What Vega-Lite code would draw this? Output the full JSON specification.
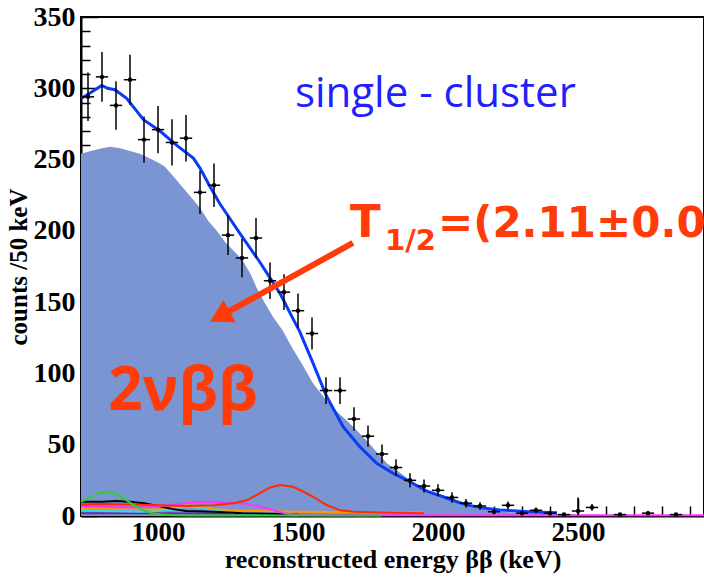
{
  "$schema": "https://vega.github.io/schema/vega-lite/v6.json",
  "width": 623,
  "height": 499,
  "autosize": {"type": "none"},
  "padding": {"left": 81, "top": 17, "right": 0, "bottom": 61},
  "background": "white",
  "config": {
    "view": {"stroke": "black", "strokeWidth": 2},
    "axis": {"grid": false, "tickColor": "black", "tickWidth": 1.5, "labelColor": "black", "titleColor": "black", "labelOverlap": false, "labelFlush": false, "labelBound": false, "zindex": 1}
  },
  "datasets": {
    "mc": [
      {"e": 725, "n": 254}, {"e": 760, "n": 256}, {"e": 800, "n": 258}, {"e": 830, "n": 259}, {"e": 865, "n": 258},
      {"e": 900, "n": 256}, {"e": 935, "n": 254}, {"e": 970, "n": 251}, {"e": 1000, "n": 248}, {"e": 1025, "n": 245},
      {"e": 1060, "n": 237}, {"e": 1090, "n": 230}, {"e": 1125, "n": 222}, {"e": 1150, "n": 216}, {"e": 1180, "n": 207},
      {"e": 1210, "n": 200}, {"e": 1240, "n": 192}, {"e": 1270, "n": 186}, {"e": 1300, "n": 180}, {"e": 1330, "n": 170},
      {"e": 1355, "n": 159}, {"e": 1380, "n": 150}, {"e": 1410, "n": 140}, {"e": 1446, "n": 130}, {"e": 1482, "n": 117},
      {"e": 1507, "n": 109}, {"e": 1554, "n": 93}, {"e": 1602, "n": 81}, {"e": 1640, "n": 73}, {"e": 1674, "n": 67},
      {"e": 1710, "n": 60}, {"e": 1745, "n": 53}, {"e": 1780, "n": 45}, {"e": 1817, "n": 37}, {"e": 1860, "n": 31},
      {"e": 1900, "n": 25}, {"e": 1940, "n": 20}, {"e": 1982, "n": 16}, {"e": 2043, "n": 11}, {"e": 2102, "n": 6.5},
      {"e": 2161, "n": 4.8}, {"e": 2221, "n": 3}, {"e": 2281, "n": 2.3}, {"e": 2364, "n": 1.8}, {"e": 2450, "n": 1},
      {"e": 2550, "n": 0.5}, {"e": 2700, "n": 0.2}, {"e": 2950, "n": 0.1}
    ],
    "fit": [
      {"e": 727, "n": 293}, {"e": 760, "n": 297}, {"e": 799, "n": 302}, {"e": 820, "n": 300}, {"e": 846, "n": 299},
      {"e": 888, "n": 293}, {"e": 948, "n": 278}, {"e": 1007, "n": 270}, {"e": 1067, "n": 260}, {"e": 1126, "n": 251},
      {"e": 1150, "n": 244}, {"e": 1186, "n": 231}, {"e": 1221, "n": 219}, {"e": 1245, "n": 212}, {"e": 1293, "n": 198},
      {"e": 1364, "n": 178}, {"e": 1400, "n": 167}, {"e": 1436, "n": 156}, {"e": 1470, "n": 143}, {"e": 1507, "n": 129},
      {"e": 1554, "n": 107}, {"e": 1602, "n": 84}, {"e": 1661, "n": 62.6}, {"e": 1721, "n": 48.6}, {"e": 1781, "n": 37},
      {"e": 1839, "n": 30}, {"e": 1900, "n": 24}, {"e": 1960, "n": 17.5}, {"e": 2018, "n": 13.5}, {"e": 2060, "n": 10.5},
      {"e": 2102, "n": 7.7}, {"e": 2161, "n": 5.6}, {"e": 2221, "n": 4.2}, {"e": 2281, "n": 3.5}, {"e": 2339, "n": 2.8},
      {"e": 2425, "n": 2.3}
    ],
    "pts": [
      {"e": 750, "x0": 728, "x1": 772, "n": 294, "lo": 277, "hi": 311},
      {"e": 800, "x0": 778, "x1": 822, "n": 308, "lo": 290.5, "hi": 325.5},
      {"e": 850, "x0": 828, "x1": 872, "n": 288, "lo": 271, "hi": 305},
      {"e": 900, "x0": 878, "x1": 922, "n": 306, "lo": 288.5, "hi": 323.5},
      {"e": 950, "x0": 928, "x1": 972, "n": 264, "lo": 247.8, "hi": 280.2},
      {"e": 1000, "x0": 978, "x1": 1022, "n": 271, "lo": 254.5, "hi": 287.5},
      {"e": 1050, "x0": 1028, "x1": 1072, "n": 262, "lo": 245.8, "hi": 278.2},
      {"e": 1100, "x0": 1078, "x1": 1122, "n": 265, "lo": 248.7, "hi": 281.3},
      {"e": 1150, "x0": 1128, "x1": 1172, "n": 227, "lo": 211.9, "hi": 242.1},
      {"e": 1200, "x0": 1178, "x1": 1222, "n": 232, "lo": 216.8, "hi": 247.2},
      {"e": 1250, "x0": 1228, "x1": 1272, "n": 197, "lo": 183, "hi": 211},
      {"e": 1300, "x0": 1278, "x1": 1322, "n": 181, "lo": 167.5, "hi": 194.5},
      {"e": 1350, "x0": 1328, "x1": 1372, "n": 195, "lo": 181, "hi": 209},
      {"e": 1400, "x0": 1378, "x1": 1422, "n": 165, "lo": 152.2, "hi": 177.8},
      {"e": 1450, "x0": 1428, "x1": 1472, "n": 157, "lo": 144.5, "hi": 169.5},
      {"e": 1500, "x0": 1478, "x1": 1522, "n": 144, "lo": 132, "hi": 156},
      {"e": 1550, "x0": 1528, "x1": 1572, "n": 128, "lo": 116.7, "hi": 139.3},
      {"e": 1600, "x0": 1578, "x1": 1622, "n": 88, "lo": 78.6, "hi": 97.4},
      {"e": 1650, "x0": 1628, "x1": 1672, "n": 88, "lo": 78.6, "hi": 97.4},
      {"e": 1700, "x0": 1678, "x1": 1722, "n": 68, "lo": 59.8, "hi": 76.2},
      {"e": 1750, "x0": 1728, "x1": 1772, "n": 56, "lo": 48.5, "hi": 63.5},
      {"e": 1800, "x0": 1778, "x1": 1822, "n": 43.5, "lo": 36.9, "hi": 50.1},
      {"e": 1850, "x0": 1828, "x1": 1872, "n": 34, "lo": 28.2, "hi": 39.8},
      {"e": 1900, "x0": 1878, "x1": 1922, "n": 25, "lo": 20, "hi": 30},
      {"e": 1950, "x0": 1928, "x1": 1972, "n": 21, "lo": 16.4, "hi": 25.6},
      {"e": 2000, "x0": 1978, "x1": 2022, "n": 18, "lo": 13.8, "hi": 22.2},
      {"e": 2050, "x0": 2028, "x1": 2072, "n": 13, "lo": 9.4, "hi": 16.6},
      {"e": 2100, "x0": 2078, "x1": 2122, "n": 9, "lo": 6, "hi": 12},
      {"e": 2150, "x0": 2128, "x1": 2172, "n": 7, "lo": 4.4, "hi": 9.6},
      {"e": 2200, "x0": 2178, "x1": 2222, "n": 3, "lo": 1.3, "hi": 4.7},
      {"e": 2250, "x0": 2228, "x1": 2272, "n": 7.5, "lo": 4.8, "hi": 10.2},
      {"e": 2300, "x0": 2278, "x1": 2322, "n": 2, "lo": 0.6, "hi": 3.4},
      {"e": 2350, "x0": 2328, "x1": 2372, "n": 4, "lo": 2, "hi": 6},
      {"e": 2400, "x0": 2378, "x1": 2422, "n": 2, "lo": 0.6, "hi": 3.4},
      {"e": 2450, "x0": 2428, "x1": 2472, "n": 1, "lo": 0, "hi": 2},
      {"e": 2500, "x0": 2478, "x1": 2522, "n": 3.5, "lo": 0.5, "hi": 13},
      {"e": 2550, "x0": 2528, "x1": 2572, "n": 6, "lo": 3.6, "hi": 8.4},
      {"e": 2650, "x0": 2628, "x1": 2672, "n": 1, "lo": 0, "hi": 2},
      {"e": 2750, "x0": 2728, "x1": 2772, "n": 2, "lo": 0.6, "hi": 3.4},
      {"e": 2850, "x0": 2828, "x1": 2872, "n": 1, "lo": 0, "hi": 2}
    ],
    "comp": [
      {"c": "purple", "e": 725, "n": 2}, {"c": "purple", "e": 1000, "n": 2}, {"c": "purple", "e": 1300, "n": 1.5}, {"c": "purple", "e": 1500, "n": 0.8}, {"c": "purple", "e": 1750, "n": 0.5},
      {"c": "cyan", "e": 725, "n": 4}, {"c": "cyan", "e": 800, "n": 3.5}, {"c": "cyan", "e": 950, "n": 3}, {"c": "cyan", "e": 1050, "n": 4.5}, {"c": "cyan", "e": 1102, "n": 6.5}, {"c": "cyan", "e": 1150, "n": 6}, {"c": "cyan", "e": 1200, "n": 4}, {"c": "cyan", "e": 1250, "n": 2.5}, {"c": "cyan", "e": 1300, "n": 1.5}, {"c": "cyan", "e": 1400, "n": 0.8}, {"c": "cyan", "e": 1500, "n": 0.5},
      {"c": "orange", "e": 725, "n": 5.5}, {"c": "orange", "e": 850, "n": 5}, {"c": "orange", "e": 1000, "n": 4.5}, {"c": "orange", "e": 1050, "n": 5.5}, {"c": "orange", "e": 1100, "n": 7.5}, {"c": "orange", "e": 1150, "n": 7}, {"c": "orange", "e": 1200, "n": 5}, {"c": "orange", "e": 1250, "n": 4}, {"c": "orange", "e": 1350, "n": 3.5}, {"c": "orange", "e": 1500, "n": 3}, {"c": "orange", "e": 1700, "n": 2.8}, {"c": "orange", "e": 1946, "n": 2.5},
      {"c": "black", "e": 725, "n": 10}, {"c": "black", "e": 800, "n": 10}, {"c": "black", "e": 850, "n": 10.5}, {"c": "black", "e": 900, "n": 10}, {"c": "black", "e": 950, "n": 9}, {"c": "black", "e": 1000, "n": 7}, {"c": "black", "e": 1050, "n": 5}, {"c": "black", "e": 1100, "n": 3.5}, {"c": "black", "e": 1200, "n": 3}, {"c": "black", "e": 1300, "n": 2}, {"c": "black", "e": 1400, "n": 1.5}, {"c": "black", "e": 1500, "n": 1},
      {"c": "magenta", "e": 725, "n": 7}, {"c": "magenta", "e": 800, "n": 6.5}, {"c": "magenta", "e": 900, "n": 6}, {"c": "magenta", "e": 1000, "n": 6.5}, {"c": "magenta", "e": 1050, "n": 8}, {"c": "magenta", "e": 1100, "n": 9}, {"c": "magenta", "e": 1150, "n": 10}, {"c": "magenta", "e": 1200, "n": 10}, {"c": "magenta", "e": 1245, "n": 9.5}, {"c": "magenta", "e": 1317, "n": 8.4}, {"c": "magenta", "e": 1350, "n": 7}, {"c": "magenta", "e": 1388, "n": 5.4}, {"c": "magenta", "e": 1430, "n": 3}, {"c": "magenta", "e": 1460, "n": 1.5}, {"c": "magenta", "e": 1500, "n": 0.8}, {"c": "magenta", "e": 1600, "n": 0.5}, {"c": "magenta", "e": 2950, "n": 0.5},
      {"c": "red", "e": 725, "n": 8}, {"c": "red", "e": 800, "n": 8.5}, {"c": "red", "e": 900, "n": 8}, {"c": "red", "e": 1000, "n": 7.5}, {"c": "red", "e": 1100, "n": 7}, {"c": "red", "e": 1200, "n": 7.5}, {"c": "red", "e": 1270, "n": 9}, {"c": "red", "e": 1317, "n": 11}, {"c": "red", "e": 1364, "n": 16}, {"c": "red", "e": 1400, "n": 20}, {"c": "red", "e": 1436, "n": 21.7}, {"c": "red", "e": 1482, "n": 20.5}, {"c": "red", "e": 1520, "n": 17}, {"c": "red", "e": 1554, "n": 13.5}, {"c": "red", "e": 1602, "n": 7.7}, {"c": "red", "e": 1650, "n": 4}, {"c": "red", "e": 1700, "n": 3}, {"c": "red", "e": 1800, "n": 2.5}, {"c": "red", "e": 1950, "n": 2},
      {"c": "green", "e": 725, "n": 10}, {"c": "green", "e": 760, "n": 13}, {"c": "green", "e": 790, "n": 16}, {"c": "green", "e": 817, "n": 17}, {"c": "green", "e": 850, "n": 15.5}, {"c": "green", "e": 888, "n": 11}, {"c": "green", "e": 920, "n": 7}, {"c": "green", "e": 948, "n": 4}, {"c": "green", "e": 980, "n": 2}, {"c": "green", "e": 1007, "n": 1.2}, {"c": "green", "e": 1050, "n": 0.5}, {"c": "green", "e": 1100, "n": 0.3}, {"c": "green", "e": 1800, "n": 0.3}
    ]
  },
  "layer": [
    {
      "data": {"name": "mc"},
      "mark": {"type": "area", "color": "#7b95d3", "opacity": 1},
      "encoding": {
        "x": {"field": "e", "type": "quantitative", "scale": {"domain": [725, 2950], "nice": false, "zero": false},
          "axis": {"orient": "bottom", "values": [800, 900, 1100, 1200, 1300, 1400, 1600, 1700, 1800, 1900, 2100, 2200, 2300, 2400, 2600, 2700, 2800, 2900], "tickSize": -10, "labels": false, "domain": false, "title": null}},
        "y": {"field": "n", "type": "quantitative", "scale": {"domain": [0, 350], "nice": false},
          "axis": {"orient": "left", "values": [10, 20, 30, 40, 60, 70, 80, 90, 110, 120, 130, 140, 160, 170, 180, 190, 210, 220, 230, 240, 260, 270, 280, 290, 310, 320, 330, 340], "tickSize": -9, "labels": false, "domain": false, "title": null}}
      }
    },
    {
      "data": {"name": "comp"},
      "mark": {"type": "line", "strokeWidth": 2},
      "encoding": {
        "x": {"field": "e", "type": "quantitative", "scale": {"domain": [725, 2950], "nice": false, "zero": false}, "axis": null},
        "y": {"field": "n", "type": "quantitative", "scale": {"domain": [0, 350], "nice": false}, "axis": null},
        "color": {"field": "c", "type": "nominal", "legend": null,
          "scale": {"domain": ["purple", "cyan", "orange", "black", "magenta", "red", "green"], "range": ["#6a2aa8", "#33dde8", "#ff9a00", "#000000", "#ff33ff", "#ff2a00", "#2ed02e"]}},
        "detail": {"field": "c"}
      }
    },
    {
      "data": {"name": "fit"},
      "mark": {"type": "line", "color": "#0a3cf5", "strokeWidth": 3},
      "encoding": {
        "x": {"field": "e", "type": "quantitative", "scale": {"domain": [725, 2950], "nice": false, "zero": false},
          "axis": {"orient": "bottom", "values": [1000, 1500, 2000, 2500], "format": "d", "tickSize": -18, "labelFont": "Liberation Serif", "labelFontWeight": "bold", "labelFontSize": 27, "labelPadding": 21,
            "title": "reconstructed energy ββ (keV)", "titleFont": "Liberation Serif", "titleFontWeight": "bold", "titleFontSize": 26, "titlePadding": 1, "domainColor": "black", "domainWidth": 2}},
        "y": {"field": "n", "type": "quantitative", "scale": {"domain": [0, 350], "nice": false},
          "axis": {"orient": "left", "values": [0, 50, 100, 150, 200, 250, 300, 350], "format": "d", "tickSize": -17, "labelFont": "Liberation Serif", "labelFontWeight": "bold", "labelFontSize": 28, "labelPadding": 23,
            "title": "counts /50 keV", "titleFont": "Liberation Serif", "titleFontWeight": "bold", "titleFontSize": 25, "titlePadding": 2, "domainColor": "black", "domainWidth": 2}}
      }
    },
    {
      "data": {"name": "pts"},
      "mark": {"type": "rule", "color": "black", "strokeWidth": 1.5},
      "encoding": {
        "x": {"field": "e", "type": "quantitative", "scale": {"domain": [725, 2950], "nice": false, "zero": false}, "axis": null},
        "y": {"field": "lo", "type": "quantitative", "scale": {"domain": [0, 350], "nice": false}, "axis": null},
        "y2": {"field": "hi"}
      }
    },
    {
      "data": {"name": "pts"},
      "mark": {"type": "rule", "color": "black", "strokeWidth": 1.5},
      "encoding": {
        "x": {"field": "x0", "type": "quantitative", "scale": {"domain": [725, 2950], "nice": false, "zero": false}, "axis": null},
        "x2": {"field": "x1"},
        "y": {"field": "n", "type": "quantitative", "scale": {"domain": [0, 350], "nice": false}, "axis": null}
      }
    },
    {
      "data": {"name": "pts"},
      "mark": {"type": "point", "filled": true, "color": "black", "size": 20, "opacity": 1},
      "encoding": {
        "x": {"field": "e", "type": "quantitative", "scale": {"domain": [725, 2950], "nice": false, "zero": false}, "axis": null},
        "y": {"field": "n", "type": "quantitative", "scale": {"domain": [0, 350], "nice": false}, "axis": null}
      }
    },
    {
      "data": {"values": [{"e": 1696, "n": 191.5, "e2": 1221, "n2": 140}]},
      "mark": {"type": "rule", "color": "#ff3b0a", "strokeWidth": 6},
      "encoding": {
        "x": {"field": "e", "type": "quantitative", "scale": {"domain": [725, 2950], "nice": false, "zero": false}, "axis": null},
        "y": {"field": "n", "type": "quantitative", "scale": {"domain": [0, 350], "nice": false}, "axis": null},
        "x2": {"field": "e2"},
        "y2": {"field": "n2"}
      }
    },
    {
      "data": {"values": [{"e": 1221, "n": 140}]},
      "mark": {"type": "point", "shape": "triangle-up", "filled": true, "color": "#ff3b0a", "size": 650, "angle": 241, "opacity": 1},
      "encoding": {
        "x": {"field": "e", "type": "quantitative", "scale": {"domain": [725, 2950], "nice": false, "zero": false}, "axis": null},
        "y": {"field": "n", "type": "quantitative", "scale": {"domain": [0, 350], "nice": false}, "axis": null}
      }
    },
    {
      "data": {"values": [{"e": 1489, "n": 287, "t": "single - cluster"}]},
      "mark": {"type": "text", "align": "left", "baseline": "alphabetic", "font": "Open Sans", "fontSize": 42, "color": "#1f1fff"},
      "encoding": {
        "x": {"field": "e", "type": "quantitative", "scale": {"domain": [725, 2950], "nice": false, "zero": false}, "axis": null},
        "y": {"field": "n", "type": "quantitative", "scale": {"domain": [0, 350], "nice": false}, "axis": null},
        "text": {"field": "t"}
      }
    },
    {
      "data": {"values": [{"e": 1686, "n": 195.7, "t": "T", "s": 45}, {"e": 2000, "n": 195.7, "t": "=(2.11±0.04", "s": 42}]},
      "mark": {"type": "text", "align": "left", "baseline": "alphabetic", "font": "DejaVu Sans", "fontWeight": "bold", "color": "#ff3b0a"},
      "encoding": {
        "x": {"field": "e", "type": "quantitative", "scale": {"domain": [725, 2950], "nice": false, "zero": false}, "axis": null},
        "y": {"field": "n", "type": "quantitative", "scale": {"domain": [0, 350], "nice": false}, "axis": null},
        "text": {"field": "t"},
        "size": {"field": "s", "type": "quantitative", "scale": null}
      }
    },
    {
      "data": {"values": [{"e": 1811, "n": 186.6, "t": "1/2"}]},
      "mark": {"type": "text", "align": "left", "baseline": "alphabetic", "font": "DejaVu Sans", "fontWeight": "bold", "fontSize": 29, "color": "#ff3b0a"},
      "encoding": {
        "x": {"field": "e", "type": "quantitative", "scale": {"domain": [725, 2950], "nice": false, "zero": false}, "axis": null},
        "y": {"field": "n", "type": "quantitative", "scale": {"domain": [0, 350], "nice": false}, "axis": null},
        "text": {"field": "t"}
      }
    },
    {
      "data": {"values": [{"e": 1089, "n": 74.3, "t": "2νββ"}]},
      "mark": {"type": "text", "align": "center", "baseline": "alphabetic", "font": "Open Sans", "fontWeight": "bold", "fontSize": 60, "color": "#ff3b0a"},
      "encoding": {
        "x": {"field": "e", "type": "quantitative", "scale": {"domain": [725, 2950], "nice": false, "zero": false}, "axis": null},
        "y": {"field": "n", "type": "quantitative", "scale": {"domain": [0, 350], "nice": false}, "axis": null},
        "text": {"field": "t"}
      }
    }
  ],
  "resolve": {"axis": {"x": "independent", "y": "independent"}}
}
